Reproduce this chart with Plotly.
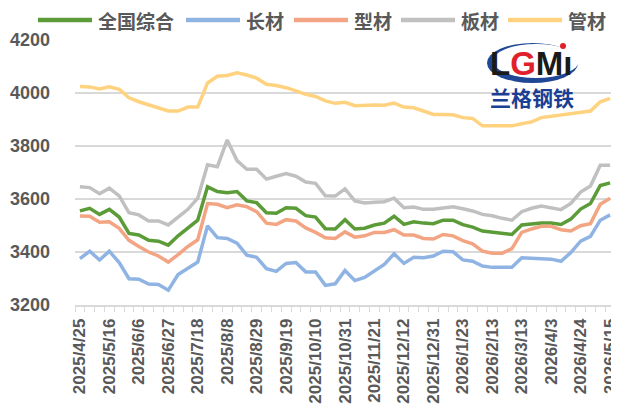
import plotly.graph_objects as go

dates = [
    "2025/4/25", "2025/5/2", "2025/5/9", "2025/5/16", "2025/5/23", "2025/5/30",
    "2025/6/6", "2025/6/13", "2025/6/20", "2025/6/27", "2025/7/4", "2025/7/11",
    "2025/7/18", "2025/7/25", "2025/8/1", "2025/8/8", "2025/8/15", "2025/8/22",
    "2025/8/29", "2025/9/5", "2025/9/12", "2025/9/19", "2025/9/26", "2025/9/30",
    "2025/10/10", "2025/10/17", "2025/10/24", "2025/10/31", "2025/11/7", "2025/11/14",
    "2025/11/21", "2025/11/28", "2025/12/5", "2025/12/12", "2025/12/19", "2025/12/26",
    "2025/12/31", "2026/1/9", "2026/1/16", "2026/1/23", "2026/1/30", "2026/2/6",
    "2026/2/13", "2026/2/27", "2026/3/6", "2026/3/13", "2026/3/20", "2026/3/27",
    "2026/4/3", "2026/4/10", "2026/4/17", "2026/4/24", "2026/4/30", "2026/5/8",
    "2026/5/15",
]

composite = [3555, 3565, 3542, 3561, 3532, 3470, 3464, 3444, 3441, 3426, 3461, 3491,
             3520, 3646, 3628, 3624, 3628, 3593, 3586, 3548, 3546, 3567, 3565, 3537,
             3532, 3488, 3487, 3522, 3487, 3490, 3502, 3509, 3535, 3504, 3514, 3509,
             3507, 3520, 3520, 3503, 3494, 3479, 3474, 3469, 3466, 3502, 3507, 3509,
             3509, 3504, 3524, 3562, 3583, 3651, 3661]

long_steel = [3375, 3403, 3370, 3403, 3360, 3299, 3297, 3279, 3277, 3256, 3315, 3340,
              3362, 3499, 3454, 3451, 3433, 3388, 3380, 3337, 3327, 3357, 3360, 3325,
              3325, 3274, 3280, 3330, 3292, 3304, 3330, 3353, 3393, 3357, 3380, 3378,
              3385, 3403, 3401, 3370, 3365, 3347, 3342, 3342, 3342, 3378, 3378, 3375,
              3373, 3365, 3398, 3441, 3459, 3520, 3540]

section = [3536, 3535, 3512, 3514, 3489, 3444, 3421, 3400, 3385, 3362, 3390, 3421,
           3446, 3583, 3580, 3567, 3578, 3571, 3552, 3509, 3504, 3522, 3517, 3491,
           3474, 3454, 3451, 3476, 3456, 3461, 3474, 3474, 3484, 3464, 3464, 3451,
           3449, 3466, 3461, 3443, 3431, 3403, 3395, 3395, 3413, 3474, 3487, 3497,
           3497, 3484, 3479, 3499, 3507, 3580, 3603]

plate = [3646, 3643, 3620, 3641, 3612, 3548, 3540, 3517, 3517, 3502, 3532, 3561,
         3603, 3729, 3722, 3823, 3745, 3712, 3712, 3675, 3686, 3696, 3686, 3664,
         3659, 3612, 3611, 3638, 3593, 3585, 3588, 3590, 3603, 3567, 3570, 3561,
         3561, 3566, 3571, 3563, 3555, 3542, 3537, 3527, 3520, 3552, 3565, 3573,
         3567, 3560, 3583, 3626, 3649, 3727, 3727]

pipe = [4025, 4023, 4015, 4023, 4014, 3982, 3967, 3956, 3944, 3932, 3932, 3947,
        3947, 4038, 4063, 4066, 4076, 4068, 4056, 4033, 4028, 4020, 4008, 3995,
        3987, 3970, 3961, 3965, 3952, 3955, 3955, 3954, 3962, 3947, 3944, 3932,
        3919, 3919, 3918, 3907, 3904, 3876, 3876, 3876, 3876, 3884, 3891, 3907,
        3912, 3914, 3919, 3927, 3932, 3967, 3980]

series_names = ["全国综合", "长材", "型材", "板材", "管材"]
series_values = [composite, long_steel, section, plate, pipe]
series_colors = ["#5b9b38", "#8fb4e3", "#f3a583", "#c0c0c0", "#ffd27f"]

x_idx = list(range(len(dates)))
tick_idx = x_idx[::3]
tick_text = [dates[i] for i in tick_idx]

fig = go.Figure()
for name, vals, col in zip(series_names, series_values, series_colors):
    fig.add_trace(go.Scatter(
        x=x_idx, y=vals, name=name, mode="lines",
        line=dict(color=col, width=3.5), showlegend=False,
    ))

# The page body has an 8px default margin, so the figure is drawn 8px smaller
# and every window-pixel position is shifted by that offset.
OFF = 8
W, H = 619 - OFF, 410 - OFF
L, R, T, B = 75 - OFF, 4, 40 - OFF, 105
pw, ph = W - L - R, H - T - B


def px(xp):
    return (xp - OFF - L) / pw


def py(yp):
    return (H - B - (yp - OFF)) / ph


txt_col = "#595959"
fig.update_layout(
    width=W, height=H,
    margin=dict(l=L, r=R, t=T, b=B, autoexpand=False),
    paper_bgcolor="white", plot_bgcolor="white",
    font=dict(family="Liberation Sans, Arial", color=txt_col),
    showlegend=False,
    xaxis=dict(
        range=[-0.5, len(dates) - 0.5],
        tickmode="array", tickvals=tick_idx, ticktext=tick_text,
        tickangle=-90, ticks="", showgrid=False, zeroline=False,
        showline=True, linecolor="#d9d9d9", linewidth=1.5,
        tickfont=dict(size=17, color=txt_col, weight="bold"),
        automargin=False, ticklabelstandoff=5, ticklabeloverflow="allow",
        minor=dict(tickmode="linear", tick0=-0.5, dtick=1, ticks="outside",
                   ticklen=5, tickcolor="#d9d9d9", tickwidth=1, showgrid=False),
    ),
    yaxis=dict(
        range=[3200, 4200], tickmode="linear", tick0=3200, dtick=200,
        showgrid=True, gridcolor="#d9d9d9", gridwidth=1.5, zeroline=False,
        showline=False, ticks="",
        tickfont=dict(size=18, color=txt_col, weight="bold"),
        automargin=False, ticklabelstandoff=24,
    ),
)

# Legend (swatches + labels so the line samples match the original length)
legend_line_x = [38, 186, 294, 401, 508]
legend_y = 20
for name, col, lx in zip(series_names, series_colors, legend_line_x):
    fig.add_shape(type="line", xref="paper", yref="paper",
                  x0=px(lx), x1=px(lx + 54), y0=py(legend_y), y1=py(legend_y),
                  line=dict(color=col, width=4.5))
    fig.add_annotation(xref="paper", yref="paper", x=px(lx + 58), y=py(legend_y),
                       text=name, showarrow=False, xanchor="left", yanchor="middle",
                       font=dict(family="Noto Sans CJK SC", size=19, color=txt_col,
                                 weight="bold"))

# Logo (LGMi 兰格钢铁)
fig.add_shape(type="circle", xref="paper", yref="paper",
              x0=px(487), x1=px(578), y0=py(83), y1=py(43),
              fillcolor="#1f4796", line=dict(width=0), layer="above")
fig.add_shape(type="circle", xref="paper", yref="paper",
              x0=px(493), x1=px(579), y0=py(78), y1=py(44),
              fillcolor="white", line=dict(width=0), layer="above")
fig.add_shape(type="circle", xref="paper", yref="paper",
              x0=px(560), x1=px(566), y0=py(49), y1=py(43),
              fillcolor="#e0202a", line=dict(width=0), layer="above")
fig.add_annotation(xref="paper", yref="paper", x=px(531), y=py(63),
                   text="L<span style='color:#e0202a'>G</span>Mı",
                   showarrow=False, xanchor="center", yanchor="middle",
                   font=dict(family="Liberation Sans Narrow, Liberation Sans", size=33,
                             color="#1a1a1a", weight="bold"))
fig.add_annotation(xref="paper", yref="paper", x=px(532), y=py(97),
                   text="兰格钢铁", showarrow=False, xanchor="center", yanchor="middle",
                   font=dict(family="Noto Sans CJK SC", size=21, color="#1b3f94",
                             weight="bold"))

fig.write_html("out.html")
